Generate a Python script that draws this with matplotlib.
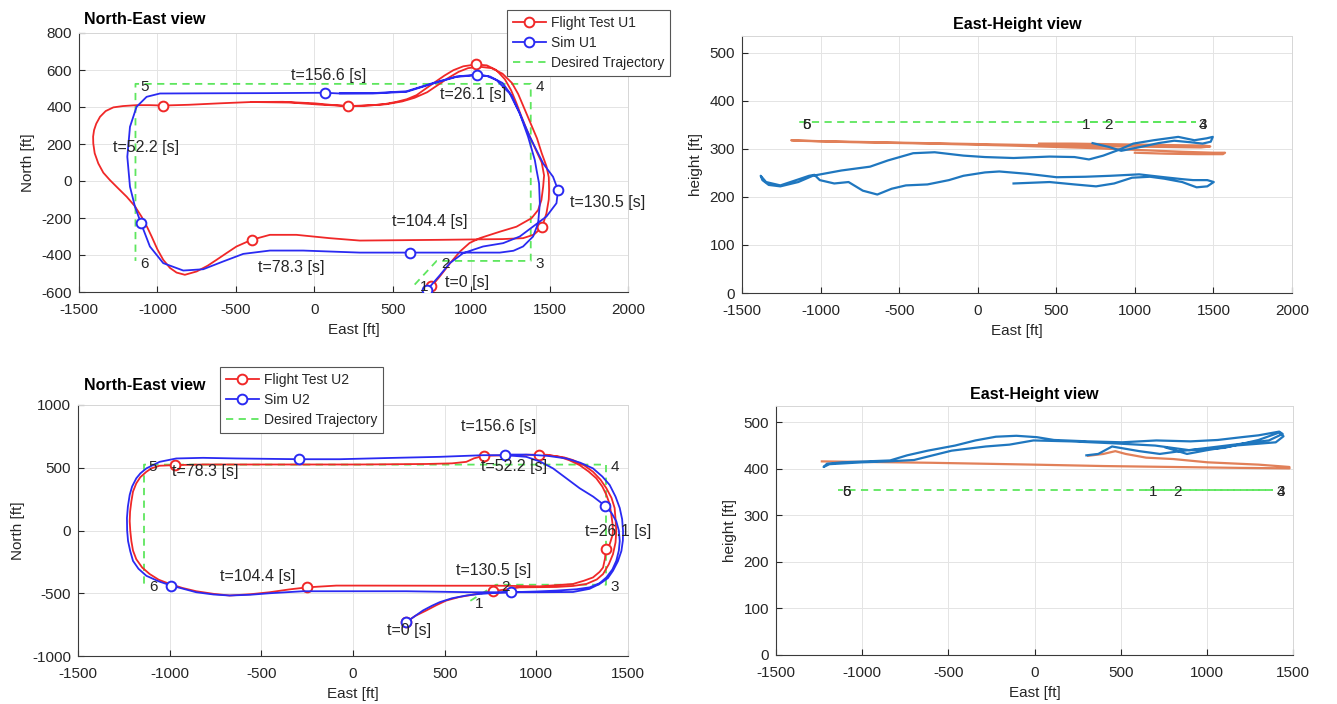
import matplotlib
matplotlib.use("Agg")
import matplotlib.pyplot as plt
from matplotlib.lines import Line2D

plt.rcParams['font.family'] = ['Liberation Sans', 'DejaVu Sans']
plt.rcParams['axes.unicode_minus'] = False

RED = '#f02828'
BLUE = '#2a2af2'
GREEN = '#5ee65e'
M_BLUE = '#1f77bf'
M_ORANGE = '#dc6a3c'
TXT = '#262626'

# desired trajectory waypoints, same for both runs
wp_east = [640, 780, 1380, 1380, -1140, -1140]
wp_north = [-560, -432, -432, 525, 525, -432]
wp_height = [355, 355, 355, 355, 355, 355]
wp_names = ['1', '2', '3', '4', '5', '6']

t_labels = ['t=0 [s]', 't=26.1 [s]', 't=52.2 [s]', 't=78.3 [s]',
            't=104.4 [s]', 't=130.5 [s]', 't=156.6 [s]']

# ---- run U1 ----
u1_ft_east = [747, 800, 870, 929, 990, 1055, 1183, 1289, 1385, 1427, 1448, 1459, 1465, 1450,
              1417, 1385, 1353, 1320, 1289, 1255, 1215, 1160, 1100, 1030, 950, 887, 830, 779,
              720, 652, 590, 525, 450, 376, 300, 217, 100, 0, -200, -400, -600, -800, -963,
              -1050, -1133, -1220, -1281, -1330, -1366, -1390, -1404, -1410, -1409, -1400,
              -1377, -1345, -1303, -1250, -1196, -1145, -1101, -1065, -1037, -1000, -963, -920,
              -878, -825, -750, -680, -623, -560, -496, -400, -283, -114, 98, 290, 550, 800,
              1000, 1200, 1331, 1400, 1452, 1480, 1495, 1497, 1495, 1480, 1450, 1420, 1390,
              1360, 1330, 1300, 1260, 1200, 1130, 1050, 980, 920, 850, 790, 720, 640, 560, 460,
              376, 217, 50, -150, -400]
u1_ft_north = [-570, -516, -440, -381, -335, -309, -274, -247, -201, -157, -103, -31, 30, 100,
               160, 220, 280, 350, 420, 490, 550, 600, 625, 630, 620, 599, 570, 540, 505, 464,
               442, 428, 416, 410, 406, 405, 412, 420, 428, 427, 420, 412, 408, 410, 410, 405,
               398, 378, 347, 310, 275, 240, 203, 150, 95, 45, 5, -40, -85, -135, -193, -250,
               -300, -370, -426, -470, -495, -507, -489, -458, -426, -390, -354, -318, -291,
               -291, -309, -322, -320, -318, -316, -314, -309, -290, -250, -175, -100, -49, 20,
               80, 150, 230, 290, 350, 410, 470, 530, 580, 610, 618, 610, 590, 555, 520, 480,
               450, 430, 415, 410, 405, 412, 424, 427]

u1_sim_east = [720, 800, 864, 949, 1076, 1204, 1310, 1395, 1480, 1544, 1554, 1522, 1459, 1374,
               1310, 1246, 1162, 1100, 1038, 907, 758, 588, 375, 163, 67, -300, -700, -984,
               -1069, -1133, -1175, -1192, -1175, -1143, -1105, -1048, -963, -835, -708, -581,
               -453, -283, -71, 290, 609, 1000, 1183, 1270, 1331, 1395, 1427, 1438, 1433, 1417,
               1406, 1363, 1310, 1260, 1200, 1120, 1040, 907, 758, 588, 375, 163]
u1_sim_north = [-588, -510, -444, -390, -354, -336, -300, -246, -192, -120, -49, 23, 95, 239,
                365, 473, 545, 568, 572, 563, 527, 482, 473, 473, 477, 475, 474, 473, 455, 401,
                293, 131, -31, -139, -228, -354, -444, -484, -477, -435, -394, -376, -376, -387,
                -387, -387, -387, -377, -354, -300, -228, -120, -13, 59, 113, 239, 365, 460, 530,
                565, 575, 565, 530, 485, 475, 474]

u1_ft_mark_east = [747, 1030, -963, -400, 1452, 217]
u1_ft_mark_north = [-570, 630, 408, -318, -250, 405]
u1_sim_mark_east = [720, 1038, -1105, 609, 1554, 67]
u1_sim_mark_north = [-588, 572, -228, -387, -49, 477]

u1_lbl_east = [972, 1014, -1072, -146, 738, 1870, 94]
u1_lbl_north = [-546, 467, 183, -469, -217, -114, 570]

u1_h_sim_east = [228, 457, 616, 753, 868, 982, 1096, 1187, 1301, 1393, 1461, 1502, 1461, 1370,
                 1301, 1187, 1027, 845, 685, 502, 320, 137, 46, -91, -183, -320, -457, -548,
                 -639, -731, -822, -913, -1005, -1039, -1073, -1164, -1256, -1347, -1381, -1370,
                 -1330, -1256, -1142, -1050, -868, -685, -571, -411, -274, -91, 46, 228, 457,
                 616, 708, 799, 890, 990, 1120, 1276, 1379, 1457, 1496, 1483, 1431, 1350, 1250,
                 1150, 1050, 990, 913, 835, 731]
u1_h_sim = [228, 231, 226, 222, 228, 240, 242, 238, 231, 220, 222, 231, 235, 235, 237, 241,
            247, 244, 242, 241, 248, 253, 251, 244, 235, 226, 224, 217, 205, 213, 231, 228,
            235, 246, 244, 234, 224, 231, 244, 235, 225, 222, 231, 244, 255, 263, 276, 291,
            293, 286, 283, 281, 284, 283, 278, 286, 297, 311, 318, 325, 318, 322, 325, 315,
            311, 314, 317, 312, 305, 301, 296, 304, 312]
u1_h_ft_east = [390, 600, 800, 1000, 1200, 1444, 1480, 1420, 1200, 900, 500, 0, -500, -1000,
                -1187, -1150, -800, -300, 200, 700, 1000, 1300, 1500, 1574, 1560, 1400, 1200,
                1000]
u1_h_ft = [311, 311, 310, 309, 308, 307, 305, 303, 304, 305, 307, 310, 313, 316, 318, 317,
           314, 311, 307, 302, 298, 294, 292, 292, 289, 289, 290, 292]

# ---- run U2 ----
u2_ft_east = [291, 340, 400, 455, 509, 580, 655, 764, 909, 1109, 1200, 1273, 1330, 1364, 1395,
              1418, 1432, 1436, 1432, 1427, 1410, 1382, 1350, 1309, 1260, 1200, 1150, 1091,
              1013, 940, 873, 790, 713, 660, 618, 540, 400, 36, -455, -818, -973, -1055, -1100,
              -1127, -1160, -1182, -1200, -1209, -1216, -1218, -1215, -1209, -1200, -1182,
              -1150, -1109, -1060, -1000, -930, -855, -760, -673, -560, -455, -350, -251, -91,
              36, 500, 800, 1018, 1200, 1260, 1309, 1345, 1364, 1375, 1378, 1400, 1415, 1418,
              1415, 1409, 1400, 1382, 1360, 1327, 1285, 1236, 1180, 1127, 1060, 1013]
u2_ft_north = [-729, -680, -637, -595, -558, -530, -511, -484, -453, -450, -442, -426, -390,
               -347, -270, -189, -95, -5, 90, 179, 260, 337, 405, 468, 520, 561, 583, 595, 605,
               603, 600, 598, 595, 575, 547, 535, 530, 526, 526, 526, 521, 516, 495, 468, 425,
               376, 310, 232, 150, 74, 0, -84, -160, -229, -295, -347, -392, -426, -458, -484,
               -505, -518, -508, -492, -470, -453, -439, -439, -440, -440, -445, -426, -400,
               -374, -330, -295, -220, -150, -110, -40, -5, 60, 126, 210, 284, 350, 416, 470,
               521, 560, 587, 603, 605]

u2_sim_east = [291, 330, 382, 430, 473, 540, 618, 680, 745, 860, 1000, 1109, 1220, 1291, 1345,
               1382, 1415, 1436, 1450, 1455, 1450, 1436, 1410, 1375, 1310, 1236, 1160, 1091,
               1020, 945, 831, 709, 473, 200, -73, -295, -636, -818, -964, -1055, -1127, -1160,
               -1182, -1205, -1218, -1228, -1233, -1232, -1227, -1215, -1200, -1170, -1127,
               -1060, -991, -855, -760, -673, -560, -455, -273, 36, 291, 655, 860, 1000, 1200,
               1290, 1345, 1390, 1418, 1445, 1464, 1472, 1473, 1468, 1455, 1432, 1400, 1360,
               1309, 1240, 1164, 1060, 945, 860]
u2_sim_north = [-729, -690, -637, -600, -571, -540, -518, -507, -500, -492, -486, -479, -468,
                -453, -420, -374, -310, -242, -160, -84, 0, 74, 140, 197, 270, 337, 420, 495,
                550, 587, 600, 600, 587, 578, 568, 568, 574, 579, 574, 547, 495, 455, 416, 350,
                284, 190, 100, 0, -84, -165, -242, -305, -361, -405, -439, -492, -510, -518,
                -512, -500, -484, -484, -484, -492, -492, -492, -490, -465, -426, -380, -321,
                -245, -163, -80, -5, 90, 179, 270, 363, 430, 495, 540, 574, 595, 605, 605]

u2_ft_mark_east = [291, 764, 1378, 1013, 713, -973, -251]
u2_ft_mark_north = [-729, -484, -150, 605, 595, 521, -453]
u2_sim_mark_east = [291, 1375, 831, -295, -991, 860]
u2_sim_mark_north = [-729, 197, 600, 568, -439, -492]

u2_lbl_east = [307, 1445, 878, -805, -521, 767, 795]
u2_lbl_north = [-794, -5, 513, 473, -369, -316, 830]

u2_h_sim_east = [301, 370, 450, 608, 727, 846, 1004, 1202, 1360, 1440, 1420, 1300, 1202, 1063,
                 905, 707, 509, 311, 113, 14, -105, -224, -343, -461, -620, -739, -838, -976,
                 -1115, -1204, -1224, -1190, -1000, -850, -699, -481, -283, -145, -6, 212, 450,
                 700, 900, 1100, 1300, 1420, 1445, 1400, 1301, 1162, 1000, 885, 760]
u2_h_sim = [429, 432, 448, 438, 432, 438, 445, 454, 461, 475, 480, 472, 468, 462, 459, 461,
            457, 459, 462, 468, 471, 469, 461, 450, 439, 429, 418, 416, 414, 411, 404, 410,
            414, 416, 419, 439, 448, 452, 461, 459, 455, 450, 440, 445, 462, 478, 470, 457,
            454, 450, 440, 432, 446]
u2_h_ft_east = [311, 400, 469, 529, 648, 806, 1004, 1301, 1479, 1480, 1200, 800, 400, 0, -600,
                -1234]
u2_h_ft = [428, 432, 438, 432, 424, 421, 414, 409, 404, 401, 402, 404, 406, 409, 413, 416]

W, H = 1337, 704
fig = plt.figure(figsize=(W / 100, H / 100), dpi=100)


def px_axes(left, top, right, bottom):
    return fig.add_axes([left / W, 1 - bottom / H, (right - left) / W, (bottom - top) / H])


def style(ax):
    ax.grid(True, color='#e4e4e4', lw=0.7)
    ax.set_axisbelow(True)
    for s in ('top', 'right'):
        ax.spines[s].set_color('#d6d6d6')
        ax.spines[s].set_linewidth(0.7)
    for s in ('left', 'bottom'):
        ax.spines[s].set_color('#3a3a3a')
        ax.spines[s].set_linewidth(0.8)
    ax.tick_params(direction='in', length=4, labelsize=11, colors=TXT)
    ax.tick_params(axis='x', pad=8)
    ax.tick_params(axis='y', pad=5)


def ne_view(ax, ft_e, ft_n, sim_e, sim_n, fm_e, fm_n, sm_e, sm_n, lbl_e, lbl_n):
    ax.plot(wp_east, wp_north, color=GREEN, lw=1.3, ls=(0, (4, 3)), zorder=2)
    ax.plot(ft_e, ft_n, color=RED, lw=1.3, solid_joinstyle='round', zorder=3)
    ax.plot(fm_e, fm_n, ls='none', marker='o', ms=7, mfc='white', mec=RED, mew=1.4, zorder=4)
    ax.plot(sim_e, sim_n, color=BLUE, lw=1.3, solid_joinstyle='round', zorder=5)
    ax.plot(sm_e, sm_n, ls='none', marker='o', ms=7, mfc='white', mec=BLUE, mew=1.4, zorder=6)
    for name, e, n in zip(wp_names, wp_east, wp_north):
        ax.annotate(name, (e, n), xytext=(6.5, -2), textcoords='offset points',
                    ha='center', va='center', fontsize=11, color=TXT, zorder=7)
    for txt, e, n in zip(t_labels, lbl_e, lbl_n):
        ax.text(e, n, txt, ha='center', va='center', fontsize=11.5, color=TXT, zorder=7)
    ax.set_xlabel('East [ft]', fontsize=11, color=TXT, labelpad=4)
    ax.set_ylabel('North [ft]', fontsize=11, color=TXT, labelpad=5)
    style(ax)


def eh_view(ax, sim_e, sim_h, ft_e, ft_h):
    ax.plot(wp_east, wp_height, color=GREEN, lw=1.3, ls=(0, (4, 3)), zorder=2)
    ax.plot(ft_e, ft_h, color=M_ORANGE, lw=1.6, alpha=0.85, zorder=3)
    ax.plot(sim_e, sim_h, color=M_BLUE, lw=1.6, zorder=4)
    for name, e, h in zip(wp_names, wp_east, wp_height):
        ax.annotate(name, (e, h), xytext=(6, -1.5), textcoords='offset points',
                    ha='center', va='center', fontsize=11, color=TXT, zorder=7)
    ax.set_ylim(0, 535)
    ax.set_yticks(range(0, 501, 100))
    ax.set_title('East-Height view', fontsize=11.5, fontweight='bold', pad=5)
    ax.set_xlabel('East [ft]', fontsize=11, color=TXT, labelpad=4)
    ax.set_ylabel('height [ft]', fontsize=11, color=TXT, labelpad=5)
    style(ax)


def legend(run, x, y):
    handles = [
        Line2D([], [], color=RED, lw=1.3, marker='o', ms=7, mfc='white', mew=1.4),
        Line2D([], [], color=BLUE, lw=1.3, marker='o', ms=7, mfc='white', mew=1.4),
        Line2D([], [], color=GREEN, lw=1.3, ls=(0, (4, 3))),
    ]
    names = ['Flight Test ' + run, 'Sim ' + run, 'Desired Trajectory']
    leg = fig.legend(handles, names, loc='upper left', bbox_to_anchor=(x / W, 1 - y / H),
                     fontsize=10, frameon=True, fancybox=False, framealpha=1,
                     edgecolor='#555555', handlelength=2.4, handletextpad=0.4,
                     labelspacing=0.45, borderpad=0.4, borderaxespad=0)
    leg.get_frame().set_linewidth(0.8)
    for t in leg.get_texts():
        t.set_color(TXT)


# top row: run U1
ax1 = px_axes(79, 33, 628, 292)
ne_view(ax1, u1_ft_east, u1_ft_north, u1_sim_east, u1_sim_north,
        u1_ft_mark_east, u1_ft_mark_north, u1_sim_mark_east, u1_sim_mark_north,
        u1_lbl_east, u1_lbl_north)
ax1.set_xlim(-1500, 2000)
ax1.set_ylim(-600, 800)
ax1.set_xticks(range(-1500, 2001, 500))
ax1.set_yticks(range(-600, 801, 200))
fig.text(84 / W, 1 - 19 / H, 'North-East view', fontsize=11.5, fontweight='bold', va='center')
legend('U1', 507, 10)

ax2 = px_axes(742, 36, 1292, 293)
eh_view(ax2, u1_h_sim_east, u1_h_sim, u1_h_ft_east, u1_h_ft)
ax2.set_xlim(-1500, 2000)
ax2.set_xticks(range(-1500, 2001, 500))

# bottom row: run U2
ax3 = px_axes(78, 405, 628, 656)
ne_view(ax3, u2_ft_east, u2_ft_north, u2_sim_east, u2_sim_north,
        u2_ft_mark_east, u2_ft_mark_north, u2_sim_mark_east, u2_sim_mark_north,
        u2_lbl_east, u2_lbl_north)
ax3.set_xlim(-1500, 1500)
ax3.set_ylim(-1000, 1000)
ax3.set_xticks(range(-1500, 1501, 500))
ax3.set_yticks(range(-1000, 1001, 500))
fig.text(84 / W, 1 - 385 / H, 'North-East view', fontsize=11.5, fontweight='bold', va='center')
legend('U2', 220, 367)

ax4 = px_axes(776, 406, 1293, 655)
eh_view(ax4, u2_h_sim_east, u2_h_sim, u2_h_ft_east, u2_h_ft)
ax4.set_xlim(-1500, 1500)
ax4.set_xticks(range(-1500, 1501, 500))

fig.savefig('out.png', dpi=100)
